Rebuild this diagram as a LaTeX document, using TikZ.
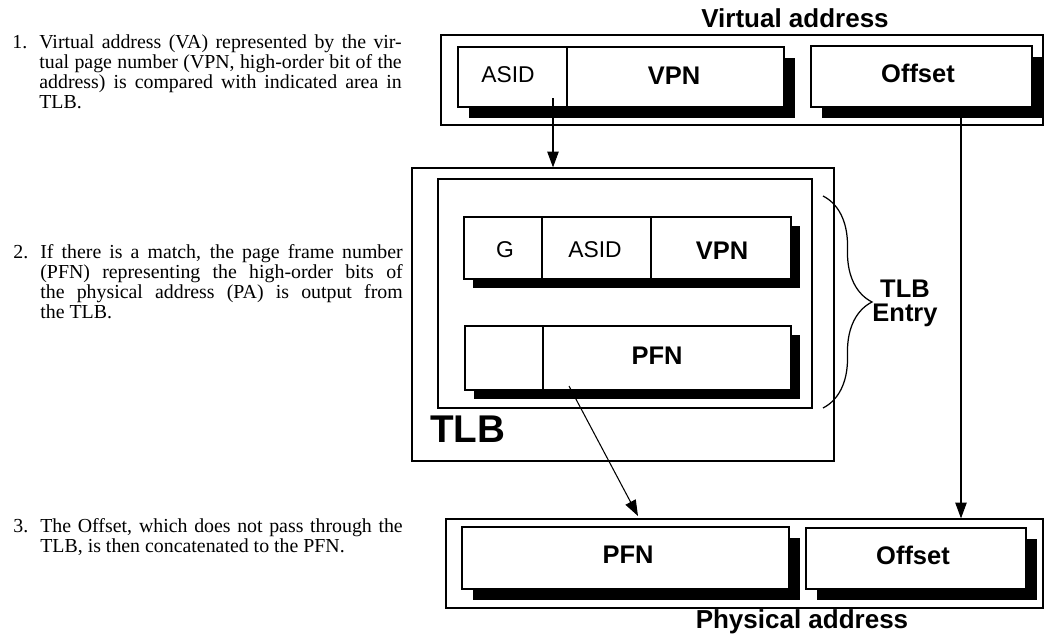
\documentclass[tikz,border=0pt]{standalone}
\usepackage{fontspec}
\setmainfont{Liberation Serif}
\setsansfont{Liberation Sans}
\usetikzlibrary{arrows.meta,positioning,fit,shadows,decorations.pathreplacing}
\tikzset{
  frame/.style={draw,line width=0.7pt,inner sep=0pt},
  reg/.style={draw,line width=1.5pt,fill=white,inner sep=0pt,
    general shadow={fill=black,shadow xshift=#1,shadow yshift=-#1}},
  reg/.default=0.22cm,
  divider/.style={line width=0.6pt},
  field/.style={font=\sffamily\fontsize{13}{15}\selectfont,anchor=base},
  bfield/.style={font=\sffamily\bfseries\fontsize{14.5}{16}\selectfont,anchor=base},
  title/.style={font=\sffamily\bfseries\fontsize{14.8}{17}\selectfont,anchor=base},
  conn/.style={line width=0.6pt,-{Triangle[length=9pt,width=6.5pt]}},
  note/.style={font=\fontsize{11.3}{11.4}\selectfont,text width=7.25cm,
    align=justify,inner sep=0pt,anchor=north west},
  num/.style={font=\fontsize{11.3}{11.4}\selectfont,inner sep=0pt,anchor=north west},
}

\begin{document}
\begin{tikzpicture}[x=0.02cm,y=-0.02cm]
  \useasboundingbox (0,0) rectangle (1046,639);

  % virtual address
  \node[frame,fit={(441,35) (1043,125)}] (va) {};
  \node[reg,fit={(458,47) (784,107)}] (va-page) {};
  \node[reg,fit={(811,46) (1032,107)}] (va-off) {};
  \node[title] (va-title) at (795,28) {Virtual address};
  \node[field] (va-asid) at (508,82) {ASID};
  \node[bfield] (va-vpn) at (674,84) {VPN};
  \node[bfield] (va-offset) at (918,82) {Offset};

  % TLB
  \node[frame,fit={(412,168) (834,461)}] (tlb) {};
  \node[frame,line width=1.3pt,fit={(438,179) (812,408)}] (tlb-in) {};
  \node[reg=0.18cm,fit={(464,217) (791,279)}] (tlb-tag) {};
  \node[reg=0.18cm,fit={(465,326) (791,390)}] (tlb-data) {};
  \node[field] (tlb-g) at (505,257) {G};
  \node[field] (tlb-asid) at (595,257) {ASID};
  \node[bfield] (tlb-vpn) at (722,259) {VPN};
  \node[bfield] (tlb-pfn) at (657,364) {PFN};
  \node[font=\sffamily\bfseries\fontsize{22}{24}\selectfont,anchor=base west]
    (tlb-name) at (424,442) {TLB};
  \draw[line width=0.7pt,decorate,decoration={brace,amplitude=0.98cm}]
    (823,196) -- (823,408);
  \node[bfield,align=center,anchor=center,font=\sffamily\bfseries\fontsize{14.5}{13.6}\selectfont]
    (tlb-entry) at (905,303) {TLB\\Entry};

  \foreach \x/\ya/\yb in {567/47/107, 542/217/279, 651/217/279, 543/326/390}
    \draw[divider] (\x,\ya) -- (\x,\yb);

  % physical address
  \node[frame,fit={(446,519) (1043,608)}] (pa) {};
  \node[reg,fit={(462,527) (789,589)}] (pa-pfn) {};
  \node[reg,fit={(806,528) (1026,589)}] (pa-off) {};
  \node[bfield] (pa-pfn-lab) at (628,563) {PFN};
  \node[bfield] (pa-off-lab) at (913,564) {Offset};
  \node[title] (pa-title) at (802,628) {Physical address};

  % connectors
  \coordinate (asid-out) at (553,98);
  \coordinate (off-out) at (961,118);
  \coordinate (pfn-out) at (569,386);
  \coordinate (pfn-in) at (638,516);
  \draw[conn] (asid-out) -- (asid-out |- tlb.north);
  \draw[conn] (off-out) -- (off-out |- pa.north);
  \draw[conn] (pfn-out) -- (pfn-in);

  % steps
  \node[num] (num1) at (12,34) {\strut 1.};
  \node[note] (step1) at (39,34) {\strut Virtual address (VA) represented by the vir-\linebreak
    tual page number (VPN, high-order bit of the\linebreak
    address) is compared with indicated area in\linebreak TLB.};
  \node[num] (num2) at (13,244) {\strut 2.};
  \node[note] (step2) at (40,244) {\strut If there is a match, the page frame number\linebreak
    (PFN) representing the high-order bits of\linebreak
    the physical address (PA) is output from\linebreak the TLB.};
  \node[num] (num3) at (13,518) {\strut 3.};
  \node[note] (step3) at (40,518) {\strut The Offset, which does not pass through the\linebreak
    TLB, is then concatenated to the PFN.};
\end{tikzpicture}
\end{document}
